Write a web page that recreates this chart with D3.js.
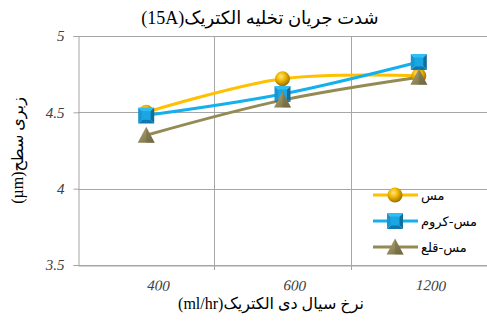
<!DOCTYPE html>
<html>
<head>
<meta charset="utf-8">
<script src="https://cdn.jsdelivr.net/npm/d3@7"></script>
<style>
  html, body { margin: 0; padding: 0; background: #fff; }
  svg { display: block; }
</style>
</head>
<body>
<svg id="chart" width="487" height="323"></svg>
<script>
// Flow rates of the dielectric (ml/hr)
const categories = ["400", "600", "1200"];
// Surface roughness (µm) per electrode material
const seriesNames = ["مس", "مس-کروم", "مس-قلع"];
const copper = [4.50, 4.72, 4.74];
const copperChrome = [4.48, 4.62, 4.83];
const copperTin = [4.35, 4.58, 4.73];
const yTicks = [3.5, 4, 4.5, 5];

const titleText = "شدت جریان تخلیه الکتریک(15A)";
const xTitle = "نرخ سیال دی الکتریک(ml/hr)";
const yTitle = "زبری سطح(µm)";

const series = [
  { name: seriesNames[0], values: copper, color: "#FFC000", marker: "circle" },
  { name: seriesNames[1], values: copperChrome, color: "#14B0EE", marker: "square" },
  { name: seriesNames[2], values: copperTin, color: "#948A54", marker: "triangle" }
];

const svg = d3.select("#chart");
const plot = { left: 78, right: 487, top: 36, bottom: 265 };
const mixedFont = "'Liberation Serif', 'DejaVu Sans', serif";

const x = d3.scaleBand().domain(categories).range([plot.left, plot.right]).padding(0);
const y = d3.scaleLinear().domain([3.5, 5]).range([plot.bottom, plot.top]);
const cx = c => x(c) + x.bandwidth() / 2;

// Gradients for the 3D-looking markers
const defs = svg.append("defs");
const gSphere = defs.append("radialGradient").attr("id", "sphere")
  .attr("cx", "40%").attr("cy", "35%").attr("r", "65%");
gSphere.append("stop").attr("offset", "0%").attr("stop-color", "#FFE680");
gSphere.append("stop").attr("offset", "45%").attr("stop-color", "#F2B800");
gSphere.append("stop").attr("offset", "100%").attr("stop-color", "#9A7000");

const gTri = defs.append("linearGradient").attr("id", "tri")
  .attr("x1", "0%").attr("y1", "0%").attr("x2", "100%").attr("y2", "100%");
gTri.append("stop").attr("offset", "0%").attr("stop-color", "#B5AB78");
gTri.append("stop").attr("offset", "100%").attr("stop-color", "#6E6640");

// Gridlines
const grid = svg.append("g").attr("stroke", "#A6A6A6").attr("stroke-width", 1);
grid.selectAll("line.h").data(yTicks).join("line")
  .attr("x1", plot.left).attr("x2", plot.right)
  .attr("y1", d => Math.round(y(d)) + 0.5).attr("y2", d => Math.round(y(d)) + 0.5);
grid.selectAll("line.v").data(categories.slice(1)).join("line")
  .attr("x1", d => Math.round(x(d)) + 0.5).attr("x2", d => Math.round(x(d)) + 0.5)
  .attr("y1", plot.top).attr("y2", plot.bottom);

// Axes
const yAxis = d3.axisLeft(y).tickValues(yTicks).tickSize(5).tickFormat(d3.format("~g"));
const yg = svg.append("g").attr("transform", `translate(${plot.left + 0.5},0)`).call(yAxis);
yg.select(".domain").attr("stroke", "#A6A6A6");
yg.selectAll(".tick line").attr("stroke", "#A6A6A6");
yg.selectAll(".tick text")
  .attr("x", -14)
  .attr("fill", "#404040")
  .style("font-family", "'Liberation Serif', serif")
  .style("font-style", "italic")
  .style("font-size", "15px");

const xAxis = d3.axisBottom(x).tickSize(0).tickFormat(d => d);
const xg = svg.append("g").attr("transform", `translate(0,${plot.bottom + 0.5})`).call(xAxis);
xg.select(".domain").attr("stroke", "#A6A6A6");
xg.selectAll(".tick text")
  .attr("y", 0).attr("dy", 0)
  .attr("transform", "translate(12,25) rotate(3)")
  .attr("fill", "#404040")
  .style("font-family", "'Liberation Serif', serif")
  .style("font-style", "italic")
  .style("font-size", "15px");
// Tick marks at the category boundaries
svg.append("g").attr("stroke", "#A6A6A6")
  .selectAll("line").data(categories.slice(1)).join("line")
  .attr("x1", d => Math.round(x(d)) + 0.5).attr("x2", d => Math.round(x(d)) + 0.5)
  .attr("y1", plot.bottom).attr("y2", plot.bottom + 5);

// Lines
const line = d3.line()
  .x((d, i) => cx(categories[i]))
  .y(d => y(d))
  .curve(d3.curveCatmullRom.alpha(0.5));

svg.append("g").selectAll("path").data(series).join("path")
  .attr("d", s => line(s.values))
  .attr("fill", "none")
  .attr("stroke", s => s.color)
  .attr("stroke-width", 3)
  .attr("stroke-linejoin", "round");

// Marker drawing
function drawMarker(g, type, px, py) {
  if (type === "circle") {
    g.append("circle").attr("cx", px).attr("cy", py).attr("r", 7.5)
      .attr("fill", "url(#sphere)");
  } else if (type === "square") {
    const s = 8;
    g.append("path").attr("d", `M${px - s},${py - s}L${px + s},${py - s}L${px},${py}Z`).attr("fill", "#2EC0F5");
    g.append("path").attr("d", `M${px - s},${py + s}L${px + s},${py + s}L${px},${py}Z`).attr("fill", "#0C78AE");
    g.append("path").attr("d", `M${px - s},${py - s}L${px - s},${py + s}L${px},${py}Z`).attr("fill", "#1796D2");
    g.append("path").attr("d", `M${px + s},${py - s}L${px + s},${py + s}L${px},${py}Z`).attr("fill", "#0E6E9E");
    g.append("rect").attr("x", px - 4.5).attr("y", py - 4.5).attr("width", 9).attr("height", 9)
      .attr("fill", "#1AA6E2");
  } else {
    const s = 8.5;
    g.append("path")
      .attr("d", `M${px},${py - s}L${px + s},${py + s - 1}L${px - s},${py + s - 1}Z`)
      .attr("fill", "url(#tri)");
    g.append("path")
      .attr("d", `M${px},${py - s}L${px + s},${py + s - 1}L${px},${py + s - 1}Z`)
      .attr("fill", "#6E6640").attr("opacity", 0.45);
  }
}

const markers = svg.append("g");
series.forEach(s => {
  s.values.forEach((v, i) => drawMarker(markers, s.marker, cx(categories[i]), y(v)));
});

// Legend
const legend = svg.append("g");
series.forEach((s, i) => {
  const ly = 195 + i * 26;
  legend.append("line").attr("x1", 373).attr("x2", 418).attr("y1", ly).attr("y2", ly)
    .attr("stroke", s.color).attr("stroke-width", 3);
  drawMarker(legend, s.marker, 395, ly);
  legend.append("text").attr("x", 421).attr("y", ly + 5)
    .attr("fill", "#000")
    .style("font-family", "'DejaVu Sans', sans-serif")
    .style("font-size", "13px")
    .text(s.name);
});

// Titles
svg.append("text").attr("x", 260).attr("y", 24)
  .attr("text-anchor", "middle").attr("direction", "rtl")
  .style("font-family", mixedFont)
  .style("font-size", "18px")
  .attr("fill", "#000")
  .text(titleText);

svg.append("text").attr("x", 271).attr("y", 309)
  .attr("text-anchor", "middle").attr("direction", "rtl")
  .style("font-family", mixedFont)
  .style("font-size", "16px")
  .attr("fill", "#000")
  .text(xTitle);

svg.append("text")
  .attr("transform", `translate(23,${(plot.top + plot.bottom) / 2}) rotate(-90)`)
  .attr("text-anchor", "middle").attr("direction", "rtl")
  .style("font-family", mixedFont)
  .style("font-size", "16px")
  .attr("fill", "#000")
  .text(yTitle);
</script>
</body>
</html>
